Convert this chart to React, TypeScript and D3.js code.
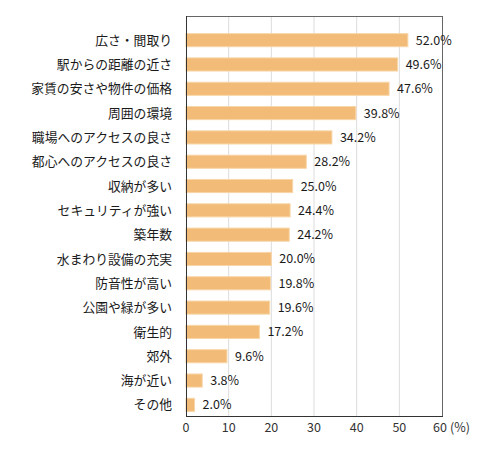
import { useEffect, useRef } from "react";
import * as d3 from "d3";

// ── Data ──────────────────────────────────────────────────────────────────────

const CATEGORIES = [
  "広さ・間取り",
  "駅からの距離の近さ",
  "家賃の安さや物件の価格",
  "周囲の環境",
  "職場へのアクセスの良さ",
  "都心へのアクセスの良さ",
  "収納が多い",
  "セキュリティが強い",
  "築年数",
  "水まわり設備の充実",
  "防音性が高い",
  "公園や緑が多い",
  "衛生的",
  "郊外",
  "海が近い",
  "その他",
];

const VALUES = [52.0, 49.6, 47.6, 39.8, 34.2, 28.2, 25.0, 24.4, 24.2, 20.0, 19.8, 19.6, 17.2, 9.6, 3.8, 2.0];

const X_TICKS = [0, 10, 20, 30, 40, 50, 60];

// ── Config ────────────────────────────────────────────────────────────────────

const W = 500;
const H = 450;
const PLOT = { left: 186, right: 442, top: 16, bottom: 416 };
const FONT = "'Noto Sans CJK JP', 'Noto Sans', sans-serif";
const BAR_FILL = "#F2BC78";
const BAR_EDGE = "#F8D6A8";

// ── Component ─────────────────────────────────────────────────────────────────

const App = () => {
  const svgRef = useRef<SVGSVGElement>(null);

  useEffect(() => {
    if (!svgRef.current) return;
    const svg = d3.select(svgRef.current);
    svg.selectAll("*").remove();

    const data = CATEGORIES.map((c, i) => ({ cat: c, value: VALUES[i] }));

    const x = d3.scaleLinear().domain([0, 60]).range([PLOT.left, PLOT.right]);
    const y = d3.scaleBand<string>()
      .domain(CATEGORIES)
      .range([28, 417])
      .paddingInner(0.46)
      .paddingOuter(0.23);

    // Grid lines
    svg.append("g")
      .selectAll("line")
      .data(X_TICKS.slice(1, -1))
      .join("line")
      .attr("x1", (d) => x(d))
      .attr("x2", (d) => x(d))
      .attr("y1", PLOT.top)
      .attr("y2", PLOT.bottom)
      .attr("stroke", "#dcdcdc")
      .attr("stroke-width", 1);

    // Bars
    svg.append("g")
      .selectAll("rect")
      .data(data)
      .join("rect")
      .attr("x", x(0))
      .attr("y", (d) => y(d.cat) ?? 0)
      .attr("width", (d) => x(d.value) - x(0))
      .attr("height", y.bandwidth())
      .attr("fill", BAR_FILL)
      .attr("stroke", BAR_EDGE)
      .attr("stroke-width", 1);

    // Frame: top / right lighter, left / bottom darker
    svg.append("line")
      .attr("x1", PLOT.left).attr("x2", PLOT.right)
      .attr("y1", PLOT.top + 0.5).attr("y2", PLOT.top + 0.5)
      .attr("stroke", "#666");
    svg.append("line")
      .attr("x1", PLOT.right + 0.5).attr("x2", PLOT.right + 0.5)
      .attr("y1", PLOT.top).attr("y2", PLOT.bottom)
      .attr("stroke", "#666");
    svg.append("line")
      .attr("x1", PLOT.left + 0.5).attr("x2", PLOT.left + 0.5)
      .attr("y1", PLOT.top).attr("y2", PLOT.bottom + 1)
      .attr("stroke", "#333");
    svg.append("line")
      .attr("x1", PLOT.left).attr("x2", PLOT.right + 1)
      .attr("y1", PLOT.bottom + 0.5).attr("y2", PLOT.bottom + 0.5)
      .attr("stroke", "#333");

    // Category labels
    svg.append("g")
      .selectAll("text")
      .data(data)
      .join("text")
      .attr("x", 172)
      .attr("y", (d) => (y(d.cat) ?? 0) + y.bandwidth() / 2)
      .attr("dy", "0.36em")
      .attr("text-anchor", "end")
      .attr("font-family", FONT)
      .attr("font-size", 12.8)
      .attr("fill", "#1a1a1a")
      .text((d) => d.cat);

    // Value labels
    svg.append("g")
      .selectAll("text")
      .data(data)
      .join("text")
      .attr("x", (d) => x(d.value) + 8)
      .attr("y", (d) => (y(d.cat) ?? 0) + y.bandwidth() / 2)
      .attr("dy", "0.36em")
      .attr("font-family", FONT)
      .attr("font-size", 12.5)
      .attr("fill", "#1a1a1a")
      .text((d) => `${d.value.toFixed(1)}%`);

    // X tick labels
    svg.append("g")
      .selectAll("text")
      .data(X_TICKS)
      .join("text")
      .attr("x", (d) => x(d) - (d === 60 ? 2 : 0))
      .attr("y", 432)
      .attr("text-anchor", "middle")
      .attr("font-family", FONT)
      .attr("font-size", 12.5)
      .attr("fill", "#333")
      .text((d) => d);

    svg.append("text")
      .attr("x", x(60) + 8)
      .attr("y", 432)
      .attr("font-family", FONT)
      .attr("font-size", 12.5)
      .attr("fill", "#333")
      .text("(%)");
  }, []);

  return (
    <svg
      ref={svgRef}
      width={W}
      height={H}
      style={{ display: "block", position: "absolute", left: 0, top: 0, background: "#fff" }}
    />
  );
};

export default App;
